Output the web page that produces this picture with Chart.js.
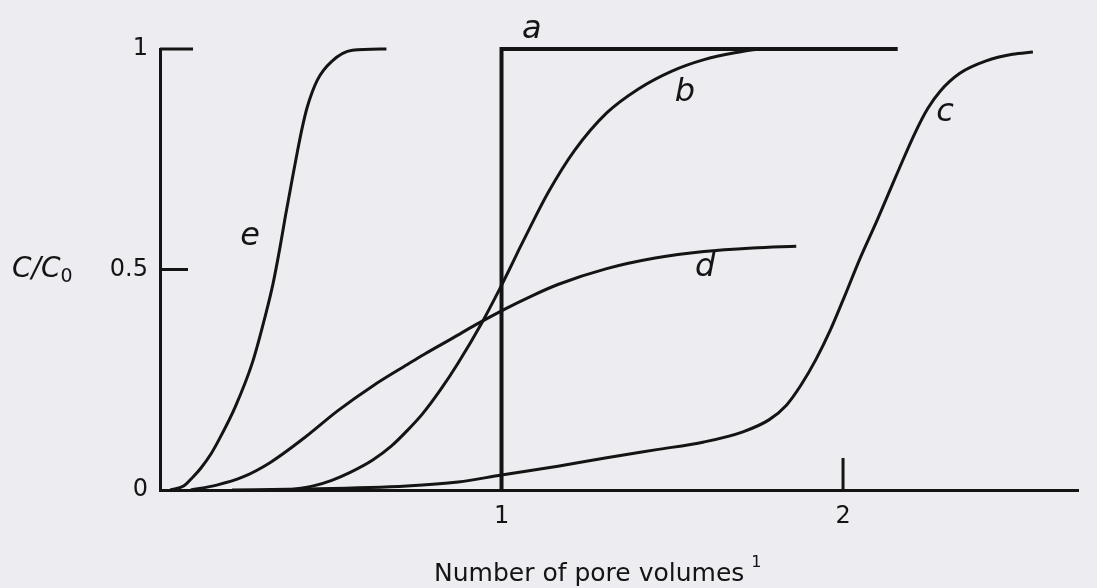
<!DOCTYPE html>
<html>
<head>
<meta charset="utf-8">
<script src="https://cdn.jsdelivr.net/npm/chart.js@4.4.1/dist/chart.umd.min.js"></script>
<style>
  html, body { margin: 0; padding: 0; background: #ededf1; }
  #wrap { width: 1097px; height: 588px; }
</style>
</head>
<body>
<div id="wrap"><canvas id="chart" width="1097" height="588"></canvas></div>
<script>
// breakthrough curves, C/C0 against number of pore volumes
const xTicks = [1, 2];
const yTicks = [0, 0.5, 1];

const curveA_x = [1, 1, 2.16];
const curveA_y = [0, 1, 1];

const curveB_x = [0.377, 0.452, 0.503, 0.557, 0.623, 0.678, 0.723, 0.768, 0.822, 0.873, 0.943, 0.994, 1.023, 1.051, 1.080, 1.137, 1.214, 1.308, 1.402, 1.499, 1.593, 1.687, 1.764, 1.877, 2.048];
const curveB_y = [0, 0.010, 0.022, 0.040, 0.068, 0.100, 0.134, 0.172, 0.228, 0.288, 0.380, 0.455, 0.500, 0.545, 0.590, 0.675, 0.770, 0.855, 0.910, 0.950, 0.976, 0.992, 1.0, 1.0, 1.0];

const curveC_x = [0.211, 0.422, 0.723, 0.873, 1.0, 1.165, 1.308, 1.450, 1.593, 1.707, 1.783, 1.835, 1.877, 1.920, 1.963, 2.006, 2.048, 2.100, 2.154, 2.211, 2.248, 2.285, 2.342, 2.419, 2.496, 2.556];
const curveC_y = [0, 0.002, 0.009, 0.018, 0.034, 0.054, 0.073, 0.091, 0.109, 0.132, 0.159, 0.193, 0.238, 0.295, 0.363, 0.442, 0.522, 0.612, 0.710, 0.810, 0.865, 0.905, 0.945, 0.973, 0.988, 0.993];

const curveD_x = [0.090, 0.166, 0.241, 0.322, 0.422, 0.521, 0.623, 0.723, 0.774, 0.858, 0.925, 1.014, 1.080, 1.165, 1.308, 1.450, 1.593, 1.735, 1.863];
const curveD_y = [0, 0.011, 0.029, 0.062, 0.118, 0.180, 0.236, 0.284, 0.308, 0.345, 0.375, 0.412, 0.437, 0.466, 0.502, 0.526, 0.541, 0.549, 0.553];

const curveE_x = [0.030, 0.069, 0.096, 0.120, 0.151, 0.172, 0.220, 0.271, 0.310, 0.331, 0.352, 0.367, 0.386, 0.401, 0.416, 0.431, 0.461, 0.503, 0.563, 0.663];
const curveE_y = [0, 0.009, 0.029, 0.050, 0.084, 0.113, 0.188, 0.290, 0.400, 0.468, 0.553, 0.620, 0.700, 0.762, 0.820, 0.868, 0.930, 0.972, 0.997, 1.0];

// hand lettering next to each curve
const letterNames = ['a', 'b', 'c', 'd', 'e'];
const letterX = [1.089, 1.537, 2.299, 1.596, 0.264];
const letterY = [1.043, 0.902, 0.855, 0.503, 0.574];

const ink = '#141414';
const tickFont = { family: '"DejaVu Sans", sans-serif', size: 24 };

function pts(xs, ys) {
  return xs.map((x, i) => ({ x: x, y: ys[i] }));
}

function curve(label, xs, ys, width) {
  return {
    label: label,
    data: pts(xs, ys),
    borderColor: ink,
    borderWidth: width,
    pointRadius: 0,
    cubicInterpolationMode: 'monotone',
    clip: false
  };
}

const paperMarks = {
  id: 'paperMarks',
  beforeDraw(chart) {
    const ctx = chart.ctx;
    ctx.save();
    ctx.fillStyle = '#ededf1';
    ctx.fillRect(0, 0, chart.width, chart.height);
    ctx.restore();
  },
  afterDraw(chart) {
    const ctx = chart.ctx;
    const xs = chart.scales.x, ys = chart.scales.y;
    const left = chart.chartArea.left, bottom = chart.chartArea.bottom;
    ctx.save();
    ctx.strokeStyle = ink;
    ctx.fillStyle = ink;
    ctx.lineWidth = 3;
    ctx.lineCap = 'butt';

    // inward tick marks
    [[1, 33], [0.5, 28]].forEach(([v, len]) => {
      const y = ys.getPixelForValue(v);
      ctx.beginPath();
      ctx.moveTo(left, y);
      ctx.lineTo(left + len, y);
      ctx.stroke();
    });
    const x2 = xs.getPixelForValue(2);
    ctx.beginPath();
    ctx.moveTo(x2, bottom);
    ctx.lineTo(x2, bottom - 32);
    ctx.stroke();

    // curve letters
    ctx.font = 'italic 32px "DejaVu Sans", sans-serif';
    ctx.textAlign = 'center';
    ctx.textBaseline = 'middle';
    letterNames.forEach((n, i) => {
      ctx.fillText(n, xs.getPixelForValue(letterX[i]), ys.getPixelForValue(letterY[i]));
    });

    // y axis name, C/C0
    const yMid = ys.getPixelForValue(0.5);
    ctx.textAlign = 'left';
    ctx.font = 'italic 28px "DejaVu Sans", sans-serif';
    ctx.fillText('C/C', 12, yMid);
    const w = ctx.measureText('C/C').width;
    ctx.font = '19px "DejaVu Sans", sans-serif';
    ctx.fillText('0', 12 + w, yMid + 8);

    // x axis name with superscript
    const title = 'Number of pore volumes';
    ctx.font = '25px "DejaVu Sans", sans-serif';
    const tw = ctx.measureText(title).width;
    const cx = xs.getPixelForValue(1.28);
    const tx = cx - (tw + 16) / 2;
    const ty = 574;
    ctx.fillText(title, tx, ty);
    ctx.font = '16px "DejaVu Sans", sans-serif';
    ctx.fillText('1', tx + tw + 7, ty - 11);
    ctx.restore();
  }
};

new Chart(document.getElementById('chart'), {
  type: 'line',
  data: {
    datasets: [
      Object.assign(curve('a', curveA_x, curveA_y, 4), { tension: 0, cubicInterpolationMode: 'default' }),
      curve('b', curveB_x, curveB_y, 3),
      curve('c', curveC_x, curveC_y, 3),
      curve('d', curveD_x, curveD_y, 3),
      curve('e', curveE_x, curveE_y, 3)
    ]
  },
  options: {
    responsive: false,
    animation: false,
    layout: { padding: { top: 49, right: 19, bottom: 0, left: 0 } },
    plugins: { legend: { display: false }, tooltip: { enabled: false } },
    scales: {
      x: {
        type: 'linear',
        min: 0,
        max: 2.688,
        afterBuildTicks: s => { s.ticks = xTicks.map(v => ({ value: v })); },
        afterFit: s => { s.height = 98; },
        ticks: { color: ink, font: tickFont, padding: 12, callback: v => String(v) },
        grid: { display: false, drawTicks: false },
        border: { display: true, color: ink, width: 3 }
      },
      y: {
        type: 'linear',
        min: 0,
        max: 1,
        afterBuildTicks: s => { s.ticks = yTicks.map(v => ({ value: v })); },
        afterFit: s => { s.width = 160; },
        ticks: { color: ink, font: tickFont, padding: 12, callback: v => String(v) },
        grid: { display: false, drawTicks: false },
        border: { display: true, color: ink, width: 3 }
      }
    }
  },
  plugins: [paperMarks]
});
</script>
</body>
</html>
